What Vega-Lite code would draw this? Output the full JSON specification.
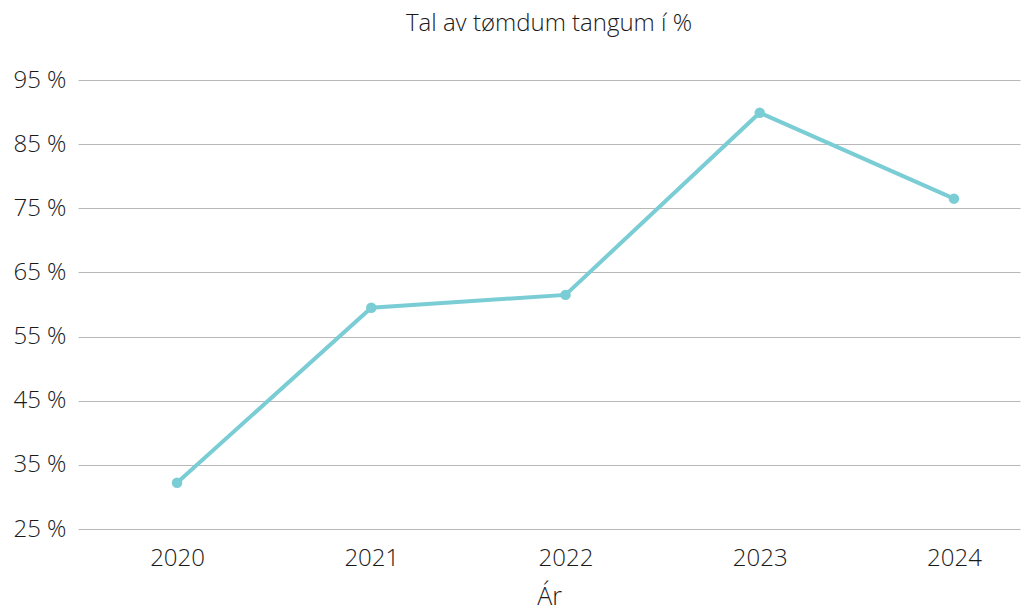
{
  "$schema": "https://vega.github.io/schema/vega-lite/v6.json",
  "autosize": {"type": "none"},
  "width": 942,
  "height": 449,
  "padding": {"left": 78, "top": 80, "right": 2, "bottom": 83},
  "background": "white",
  "config": {
    "view": {"stroke": null},
    "font": "Open Sans",
    "axis": {"labelFont": "Open Sans", "titleFont": "Open Sans", "labelColor": "#1a1a1a", "titleColor": "#1a1a1a", "labelFontWeight": 300, "titleFontWeight": 300}
  },
  "title": {
    "text": "Tal av tømdum tangum í %",
    "fontSize": 24,
    "font": "Open Sans",
    "fontWeight": 300,
    "color": "#1a1a1a",
    "anchor": "middle",
    "offset": 32
  },
  "data": {
    "values": [
      {"year": "2020", "pct": 32.2},
      {"year": "2021", "pct": 59.5},
      {"year": "2022", "pct": 61.5},
      {"year": "2023", "pct": 89.9},
      {"year": "2024", "pct": 76.5}
    ]
  },
  "encoding": {
    "x": {
      "field": "year",
      "type": "ordinal",
      "scale": {"type": "point", "padding": 0.425, "align": 0.6},
      "axis": {
        "title": "Ár",
        "titleFontSize": 25,
        "titlePadding": 14,
        "labelFontSize": 24,
        "labelPadding": 17,
        "labelAngle": 0,
        "ticks": false,
        "domain": false,
        "grid": false
      }
    },
    "y": {
      "field": "pct",
      "type": "quantitative",
      "scale": {"domain": [25, 95], "nice": false, "zero": false},
      "axis": {
        "title": null,
        "values": [25, 35, 45, 55, 65, 75, 85, 95],
        "labelExpr": "datum.value + ' %'",
        "labelFontSize": 24,
        "labelPadding": 12,
        "ticks": false,
        "domain": false,
        "grid": true,
        "gridColor": "#b8b8b8",
        "gridWidth": 1
      }
    }
  },
  "layer": [
    {"mark": {"type": "line", "color": "#7acdd5", "strokeWidth": 4}},
    {"mark": {"type": "point", "filled": true, "color": "#7acdd5", "size": 110, "opacity": 1}}
  ]
}
